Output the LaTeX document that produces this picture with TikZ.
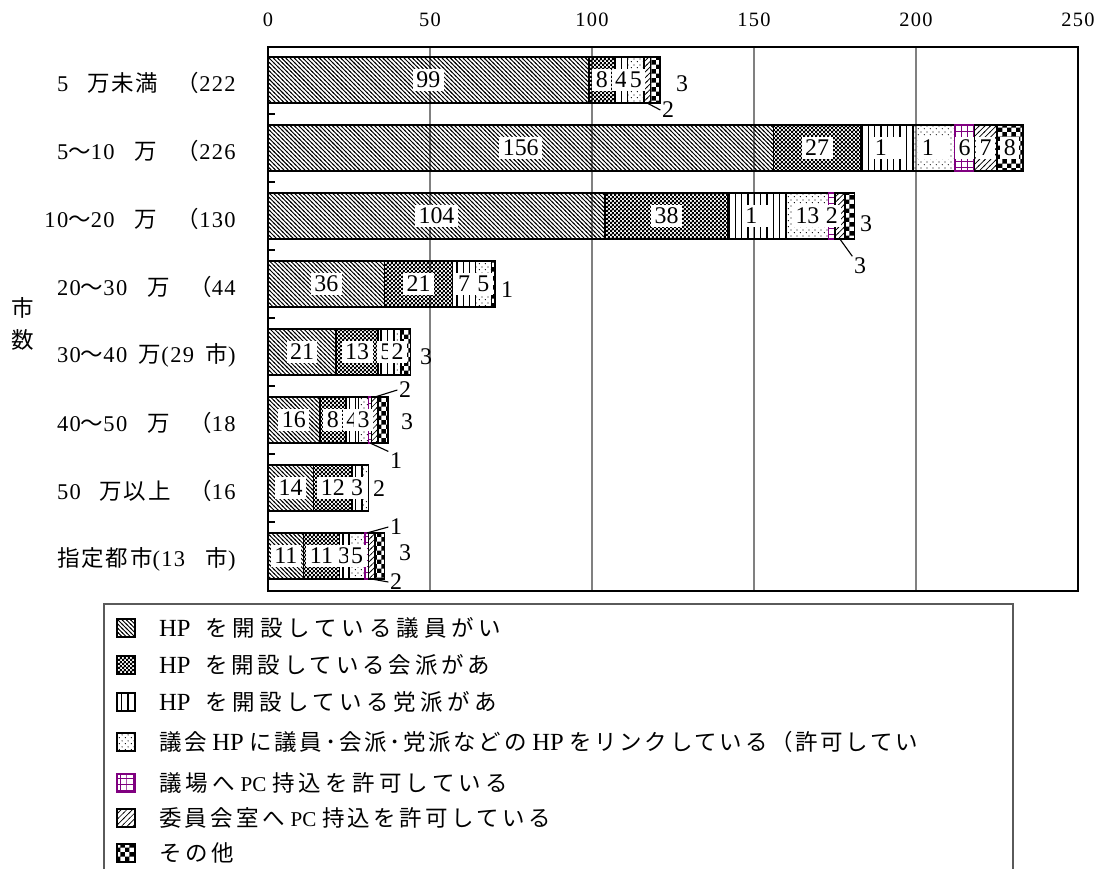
\documentclass[tikz,border=0pt]{standalone}
\usepackage{fontspec}
\setmainfont{Liberation Serif}
\newfontfamily\jp{Noto Sans CJK JP}
\newfontfamily\jc[LetterSpace=8]{Noto Sans CJK JP}
\newfontfamily\lt[LetterSpace=6]{Liberation Serif}
\newcommand\js[2]{{\jp\addfontfeature{LetterSpace=#1}#2}}
\newcommand\la[2]{{\fontsize{#1}{19}\selectfont #2}}
\usepackage{tikz}
\usetikzlibrary{patterns,positioning,calc}
\definecolor{gridgray}{RGB}{128,128,128}
\definecolor{framegray}{RGB}{90,90,90}
\definecolor{gijoupurple}{RGB}{128,0,128}

% fill patterns of the seven answers
\pgfdeclarepatternformonly{giin}{\pgfqpoint{-1pt}{-1pt}}{\pgfqpoint{4pt}{4pt}}{\pgfqpoint{3pt}{3pt}}{%
  \pgfsetlinewidth{0.65pt}%
  \pgfpathmoveto{\pgfqpoint{-0.5pt}{3.5pt}}\pgfpathlineto{\pgfqpoint{3.5pt}{-0.5pt}}\pgfusepath{stroke}}
\pgfdeclarepatternformonly{kaiha}{\pgfqpoint{0pt}{0pt}}{\pgfqpoint{2.8pt}{2.8pt}}{\pgfqpoint{2.8pt}{2.8pt}}{%
  \pgfpathrectangle{\pgfqpoint{0pt}{0pt}}{\pgfqpoint{1.5pt}{1.5pt}}%
  \pgfpathrectangle{\pgfqpoint{1.4pt}{1.4pt}}{\pgfqpoint{1.5pt}{1.5pt}}\pgfusepath{fill}}
\pgfdeclarepatternformonly{touha}{\pgfqpoint{0pt}{-0.5pt}}{\pgfqpoint{4.5pt}{4.5pt}}{\pgfqpoint{4.5pt}{4pt}}{%
  \pgfsetlinewidth{1pt}%
  \pgfpathmoveto{\pgfqpoint{1pt}{-0.5pt}}\pgfpathlineto{\pgfqpoint{1pt}{4.5pt}}\pgfusepath{stroke}}
\pgfdeclarepatternformonly{gikaihp}{\pgfqpoint{0pt}{0pt}}{\pgfqpoint{4pt}{4pt}}{\pgfqpoint{4pt}{4pt}}{%
  \pgfpathcircle{\pgfqpoint{1pt}{1pt}}{0.45pt}%
  \pgfpathcircle{\pgfqpoint{3pt}{3pt}}{0.45pt}\pgfusepath{fill}}
\pgfdeclarepatternformonly{gijou}{\pgfqpoint{-0.5pt}{-0.5pt}}{\pgfqpoint{4.5pt}{4.5pt}}{\pgfqpoint{4.3pt}{4.3pt}}{%
  \pgfsetlinewidth{0.7pt}%
  \pgfpathmoveto{\pgfqpoint{0pt}{-0.5pt}}\pgfpathlineto{\pgfqpoint{0pt}{4.5pt}}%
  \pgfpathmoveto{\pgfqpoint{-0.5pt}{0pt}}\pgfpathlineto{\pgfqpoint{4.5pt}{0pt}}\pgfusepath{stroke}}
\pgfdeclarepatternformonly{iin}{\pgfqpoint{-1pt}{-1pt}}{\pgfqpoint{5pt}{5pt}}{\pgfqpoint{4pt}{4pt}}{%
  \pgfsetlinewidth{0.5pt}%
  \pgfpathmoveto{\pgfqpoint{-0.5pt}{-0.5pt}}\pgfpathlineto{\pgfqpoint{4.5pt}{4.5pt}}\pgfusepath{stroke}}
\pgfdeclarepatternformonly{sonota}{\pgfqpoint{0pt}{0pt}}{\pgfqpoint{6.4pt}{6.4pt}}{\pgfqpoint{6.4pt}{6.4pt}}{%
  \pgfpathrectangle{\pgfqpoint{0pt}{0pt}}{\pgfqpoint{3.2pt}{3.2pt}}%
  \pgfpathrectangle{\pgfqpoint{3.2pt}{3.2pt}}{\pgfqpoint{3.2pt}{3.2pt}}\pgfusepath{fill}}

\begin{document}
\begin{tikzpicture}[
        x=0.025cm, y=-0.025cm,
        seg/.style={draw=black, line width=1.1pt, inner sep=0pt, outer sep=0pt, minimum height=1.15cm, anchor=west},
        p1/.style={pattern=giin},
        p2/.style={pattern=kaiha},
        p3/.style={pattern=touha},
        p4/.style={pattern=gikaihp},
        p5/.style={pattern=gijou, pattern color=gijoupurple, draw=gijoupurple},
        p6/.style={pattern=iin},
        p7/.style={pattern=sonota},
        num/.style={fill=white, inner xsep=2.5pt, inner ysep=2pt, font=\fontsize{17}{19}\selectfont},
        callout/.style={inner sep=1pt, font=\fontsize{17}{19}\selectfont},
        lead/.style={line width=0.8pt},
        ticklab/.style={font={\lt\fontsize{14.5}{16}\selectfont}},
        catlabel/.style={anchor=east, inner sep=0pt, font=\fontsize{16}{19}\selectfont},
        gridline/.style={gridgray, line width=0.8pt},
        swatch/.style={draw=black, line width=0.8pt, minimum size=0.45cm, inner sep=0pt},
        legtext/.style={anchor=west, inner sep=0pt, font=\fontsize{16}{19}\selectfont}
    ]
        \useasboundingbox (0,0) rectangle (1106,869);

        % Grid
        \foreach \t in {1,...,4}
            \draw[gridline] (268+162*\t,47) -- (268+162*\t,591);

        % Bars
        \foreach \r/\vals in {1/{99,8,4,5,0,2,3}, 2/{156,27,16,13,6,7,8}, 3/{104,38,18,13,2,3,3},
                4/{36,21,7,5,0,0,1}, 5/{21,13,5,2,0,0,3}, 6/{16,8,4,3,1,2,3},
                7/{14,12,3,2,0,0,0}, 8/{11,11,3,5,1,2,3}}{
            \pgfmathsetmacro\yc{12+68*\r}
            \gdef\acc{0}
            \foreach \v [count=\k] in \vals {
                \ifnum\v>0
                    \node[seg, p\k, minimum width=\v*0.081cm] (b\r-\k) at ({268+3.24*\acc},\yc) {};
                \fi
                \pgfmathsetmacro\nacc{\acc+\v}
                \xdef\acc{\nacc}
            }
        }

        % Values inside the bars
        \foreach \r/\k/\t in {1/1/99, 1/2/8, 1/3/4, 1/4/5,
                2/1/156, 2/2/27, 2/3/{1\phantom{6}}, 2/4/{1\phantom{3}}, 2/5/6, 2/6/7, 2/7/8,
                3/1/104, 3/2/38, 3/3/{1\phantom{8}}, 3/4/13, 3/5/2,
                4/1/36, 4/2/21, 4/3/7, 4/4/5,
                5/1/21, 5/2/13, 5/3/5, 5/4/2,
                6/1/16, 6/2/8, 6/3/4, 6/4/3,
                7/1/14, 7/2/12, 7/3/3,
                8/1/11, 8/2/11, 8/3/3, 8/4/5}
            \node[num] (v\r-\k) at (b\r-\k) {\t};

        % Values beside the bars
        \node[callout] (c1-6) at (668,110) {2};
        \node[callout] (c1-7) at (682,84) {3};
        \node[callout] (c3-6) at (860,266) {3};
        \node[callout] (c3-7) at (866,224) {3};
        \node[callout] (c4-7) at (507,290) {1};
        \node[callout] (c5-7) at (426,357) {3};
        \node[callout] (c6-5) at (396,461) {1};
        \node[callout] (c6-6) at (405,390) {2};
        \node[callout] (c6-7) at (407,422) {3};
        \node[callout] (c7-4) at (379,489) {2};
        \node[callout] (c8-5) at (396,527) {1};
        \node[callout] (c8-6) at (396,582) {2};
        \node[callout] (c8-7) at (405,553) {3};
        \draw[lead] (b1-6.south) -- (c1-6.west);
        \draw[lead] (b3-6.south) -- (c3-6.north west);
        \draw[lead] (b6-5.south) -- (c6-5.north west);
        \draw[lead] (b6-6.north) -- (c6-6.west);
        \draw[lead] (b8-5.north) -- (c8-5.west);
        \draw[lead] (b8-6.south) -- (c8-6.west);

        % Axes
        \draw[line width=1.4pt] (268,47) rectangle (1078,591);
        \foreach \r in {1,...,7}
            \draw[line width=0.8pt] (268,46+68*\r) -- ++(7,0);
        \foreach \t in {0,50,...,250}
            \node[ticklab] (t\t) at (268+3.24*\t,20) {\t};

        % Categories
        \foreach \r/\w/\txt in {
                1/127/{{\lt 5} {\jc 万未満} {\jc （}{\lt 222}},
                2/127/{{\lt 5}{\jc ～}{\lt 10} {\jc 万} {\jc （}{\lt 226}},
                3/136/{{\lt 10}{\jc ～}{\lt 20} {\jc 万} {\jc （}{\lt 130}},
                4/127/{{\lt 20}{\jc ～}{\lt 30} {\jc 万} {\jc （}{\lt 44}},
                5/127/{{\lt 30}{\jc ～}{\lt 40} {\jc 万}{\lt (29} {\jc 市}{\lt )}},
                6/127/{{\lt 40}{\jc ～}{\lt 50} {\jc 万} {\jc （}{\lt 18}},
                7/127/{{\lt 50} {\jc 万以上} {\jc （}{\lt 16}},
                8/127/{{\jc 指定都市}{\lt (13} {\jc 市}{\lt )}}}
            \node[catlabel] (cat\r) at (236,15+68*\r) {\makebox[\w pt][s]{\txt}};
        \node[align=center, font={\fontsize{16}{23}\selectfont\jp}] (ylab) at (23,324) {市\\数};

        % Legend
        \draw[framegray, line width=0.8pt] (104,880) |- (1013,604) -- (1013,880);
        \foreach \k/\yy/\txt in {
                1/628/{\la{17.5}{HP}\hspace{0.65em}\js{22}{を開設している議員がい}},
                2/665/{\la{17.5}{HP}\hspace{0.65em}\js{17}{を開設している会派があ}},
                3/702/{\la{17.5}{HP}\hspace{0.65em}\js{20}{を開設している党派があ}},
                4/742/{\js{12}{議会} \la{17.5}{HP} \js{12}{に議員･会派･党派などの} \la{17.5}{HP} \js{12}{をリンクしている（許可してい}},
                5/783/{\js{19}{議場へ} \la{15}{PC} \js{19}{持込を許可している}},
                6/818/{\js{15}{委員会室へ} \la{15}{PC} \js{15}{持込を許可している}},
                7/853/{\js{17}{その他}}}{
            \node[swatch, p\k] (sw\k) at (126,\yy) {};
            \node[legtext, right=0.58cm of sw\k] (leg\k) {\txt};
        }
\end{tikzpicture}
\end{document}
